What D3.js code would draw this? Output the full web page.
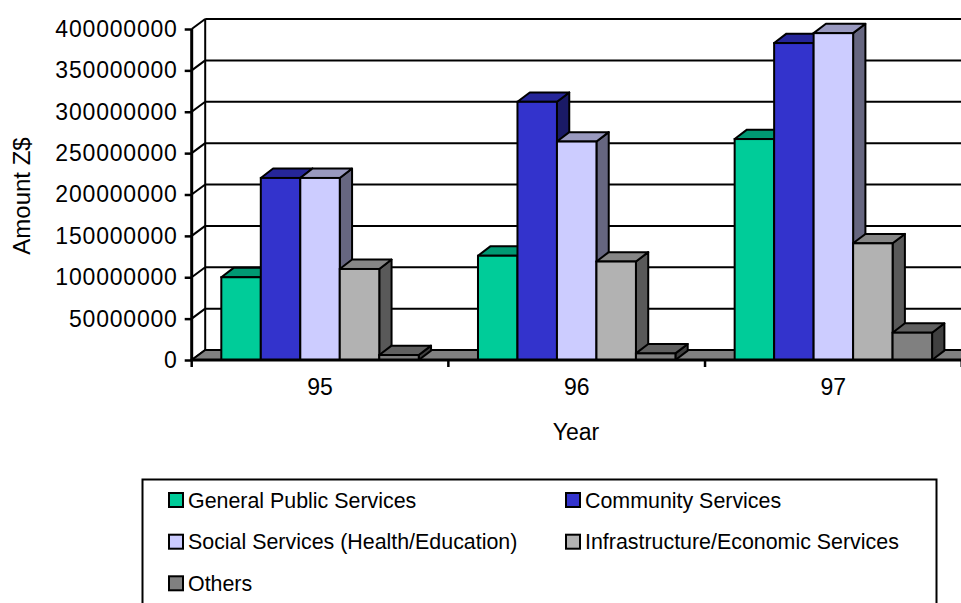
<!DOCTYPE html>
<html>
<head>
<meta charset="utf-8">
<script src="https://cdn.jsdelivr.net/npm/d3@7"></script>
<style>
  html, body { margin: 0; padding: 0; background: #fff; }
  svg { display: block; }
  text { font-family: "Liberation Sans", Arial, Helvetica, sans-serif; fill: #000; }
</style>
</head>
<body>
<svg id="chart" width="961" height="603"></svg>
<script>
// Expenditure by function, Z$ (1995-1997)
const years = ["95", "96", "97"];
const seriesNames = [
  "General Public Services",
  "Community Services",
  "Social Services (Health/Education)",
  "Infrastructure/Economic Services",
  "Others"
];
const generalPublic   = [100000000, 126000000, 267000000];
const community       = [220000000, 312000000, 383000000];
const socialServices  = [220000000, 264000000, 395000000];
const infrastructure  = [110000000, 119000000, 141000000];
const others          = [6000000, 8000000, 33000000];
const seriesValues = [generalPublic, community, socialServices, infrastructure, others];
const seriesColors = ["#00CC99", "#3333CC", "#CCCCFF", "#B2B2B2", "#808080"];
const yTicks = [0, 50000000, 100000000, 150000000, 200000000, 250000000, 300000000, 350000000, 400000000];

const svg = d3.select("#chart");
const W = 961;

// plot frame
const left = 191.7, right = 961.7, baseY = 360, topY = 29;
const depth = { dx: 13.5, dy: -10 };     // floor / wall depth
const barDepth = { dx: 12.3, dy: -9.4 }; // bar depth

const y = d3.scaleLinear().domain([0, 400000000]).range([baseY, topY]);
const x0 = d3.scaleBand().domain(years).range([left, right]).paddingInner(0).paddingOuter(0);
const x1 = d3.scaleBand().domain(d3.range(seriesNames.length))
  .range([0, x0.bandwidth()]).paddingInner(0).paddingOuter(0.75);

const shade = (c, k) => {
  const r = d3.rgb(c);
  return d3.rgb(r.r * k, r.g * k, r.b * k).formatHex();
};

const chart = svg.append("g");

// back wall gridlines
chart.append("g").selectAll("line").data(yTicks).join("line")
  .attr("x1", left + depth.dx).attr("x2", W + 20)
  .attr("y1", d => y(d) + depth.dy).attr("y2", d => y(d) + depth.dy)
  .attr("stroke", "#000").attr("stroke-width", 2);

// back wall left edge
chart.append("line")
  .attr("x1", left + depth.dx).attr("x2", left + depth.dx)
  .attr("y1", y(400000000) + depth.dy).attr("y2", y(0) + depth.dy)
  .attr("stroke", "#000").attr("stroke-width", 2);

// side wall diagonals
chart.append("g").selectAll("line").data(yTicks).join("line")
  .attr("x1", left).attr("x2", left + depth.dx)
  .attr("y1", d => y(d)).attr("y2", d => y(d) + depth.dy)
  .attr("stroke", "#000").attr("stroke-width", 2);

// floor
chart.append("path")
  .attr("d", d3.line()([
    [left, y(0)], [right + 10, y(0)], [right + 10 + depth.dx, y(0) + depth.dy], [left + depth.dx, y(0) + depth.dy]
  ]) + "Z")
  .attr("fill", "#808080").attr("stroke", "#000").attr("stroke-width", 2).attr("stroke-linejoin", "round");

// bars (left to right so each bar covers the side face of the one before)
const bars = [];
years.forEach((yr, gi) => {
  seriesValues.forEach((vals, si) => {
    bars.push({ yr, si, v: vals[gi] });
  });
});

const barG = chart.append("g").selectAll("g").data(bars).join("g");
barG.each(function(d) {
  const g = d3.select(this);
  const xl = x0(d.yr) + x1(d.si);
  const xr = xl + x1.bandwidth();
  const yt = y(d.v), yb = y(0);
  const c = seriesColors[d.si];
  const dx = barDepth.dx, dy = barDepth.dy;
  // side face
  g.append("path")
    .attr("d", d3.line()([[xr, yb], [xr, yt], [xr + dx, yt + dy], [xr + dx, yb + dy]]) + "Z")
    .attr("fill", shade(c, 0.5)).attr("stroke", "#000").attr("stroke-width", 2).attr("stroke-linejoin", "round");
  // top face
  g.append("path")
    .attr("d", d3.line()([[xl, yt], [xr, yt], [xr + dx, yt + dy], [xl + dx, yt + dy]]) + "Z")
    .attr("fill", shade(c, 0.75)).attr("stroke", "#000").attr("stroke-width", 2).attr("stroke-linejoin", "round");
  // front face
  g.append("rect")
    .attr("x", xl).attr("y", yt).attr("width", xr - xl).attr("height", yb - yt)
    .attr("fill", c).attr("stroke", "#000").attr("stroke-width", 2);
});

// value axis
const yAxis = svg.append("g")
  .attr("transform", `translate(${left},0)`)
  .call(d3.axisLeft(y).tickValues(yTicks).tickFormat(d3.format("d")).tickSize(7).tickPadding(7).tickSizeOuter(0));
yAxis.select(".domain").remove();
yAxis.selectAll(".tick line").attr("stroke", "#000").attr("stroke-width", 2.5);
yAxis.selectAll(".tick text")
  .style("font-family", '"Liberation Sans", Arial, sans-serif')
  .style("font-size", "23px").style("letter-spacing", "0.8px").attr("fill", "#000");
svg.append("line")
  .attr("x1", left).attr("x2", left).attr("y1", y(400000000)).attr("y2", y(0) + 1)
  .attr("stroke", "#000").attr("stroke-width", 3);

// category axis
const xAxis = svg.append("g")
  .attr("transform", `translate(0,${baseY})`)
  .call(d3.axisBottom(x0).tickSize(0).tickPadding(19));
xAxis.select(".domain").remove();
xAxis.selectAll(".tick text")
  .style("font-family", '"Liberation Sans", Arial, sans-serif')
  .style("font-size", "23px").attr("fill", "#000");
svg.append("line")
  .attr("x1", left - 1).attr("x2", W + 10).attr("y1", baseY).attr("y2", baseY)
  .attr("stroke", "#000").attr("stroke-width", 3);
svg.append("g").selectAll("line").data(years.concat(["end"])).join("line")
  .attr("x1", (d, i) => left + i * x0.bandwidth()).attr("x2", (d, i) => left + i * x0.bandwidth())
  .attr("y1", baseY).attr("y2", baseY + 7)
  .attr("stroke", "#000").attr("stroke-width", 2.5);

// axis titles
svg.append("text")
  .attr("transform", `translate(30,196) rotate(-90)`)
  .attr("text-anchor", "middle")
  .style("font-size", "24px")
  .text("Amount Z$");
svg.append("text")
  .attr("x", 576).attr("y", 440)
  .attr("text-anchor", "middle")
  .style("font-size", "23px")
  .text("Year");

// legend
const legend = svg.append("g");
legend.append("rect")
  .attr("x", 142.5).attr("y", 479.5).attr("width", 794).attr("height", 140)
  .attr("fill", "#fff").attr("stroke", "#000").attr("stroke-width", 2);
const colX = [169, 566];
const rowY = [500, 541.7, 583.3];
const items = legend.selectAll("g.item").data(seriesNames).join("g")
  .attr("class", "item")
  .attr("transform", (d, i) => `translate(${colX[i % 2]},${rowY[Math.floor(i / 2)]})`);
items.append("rect")
  .attr("x", 0).attr("y", -7).attr("width", 14).attr("height", 14)
  .attr("fill", (d, i) => seriesColors[i]).attr("stroke", "#000").attr("stroke-width", 2);
items.append("text")
  .attr("x", 19).attr("y", 0).attr("dy", "0.35em")
  .style("font-size", "21.4px")
  .text(d => d);
</script>
</body>
</html>
